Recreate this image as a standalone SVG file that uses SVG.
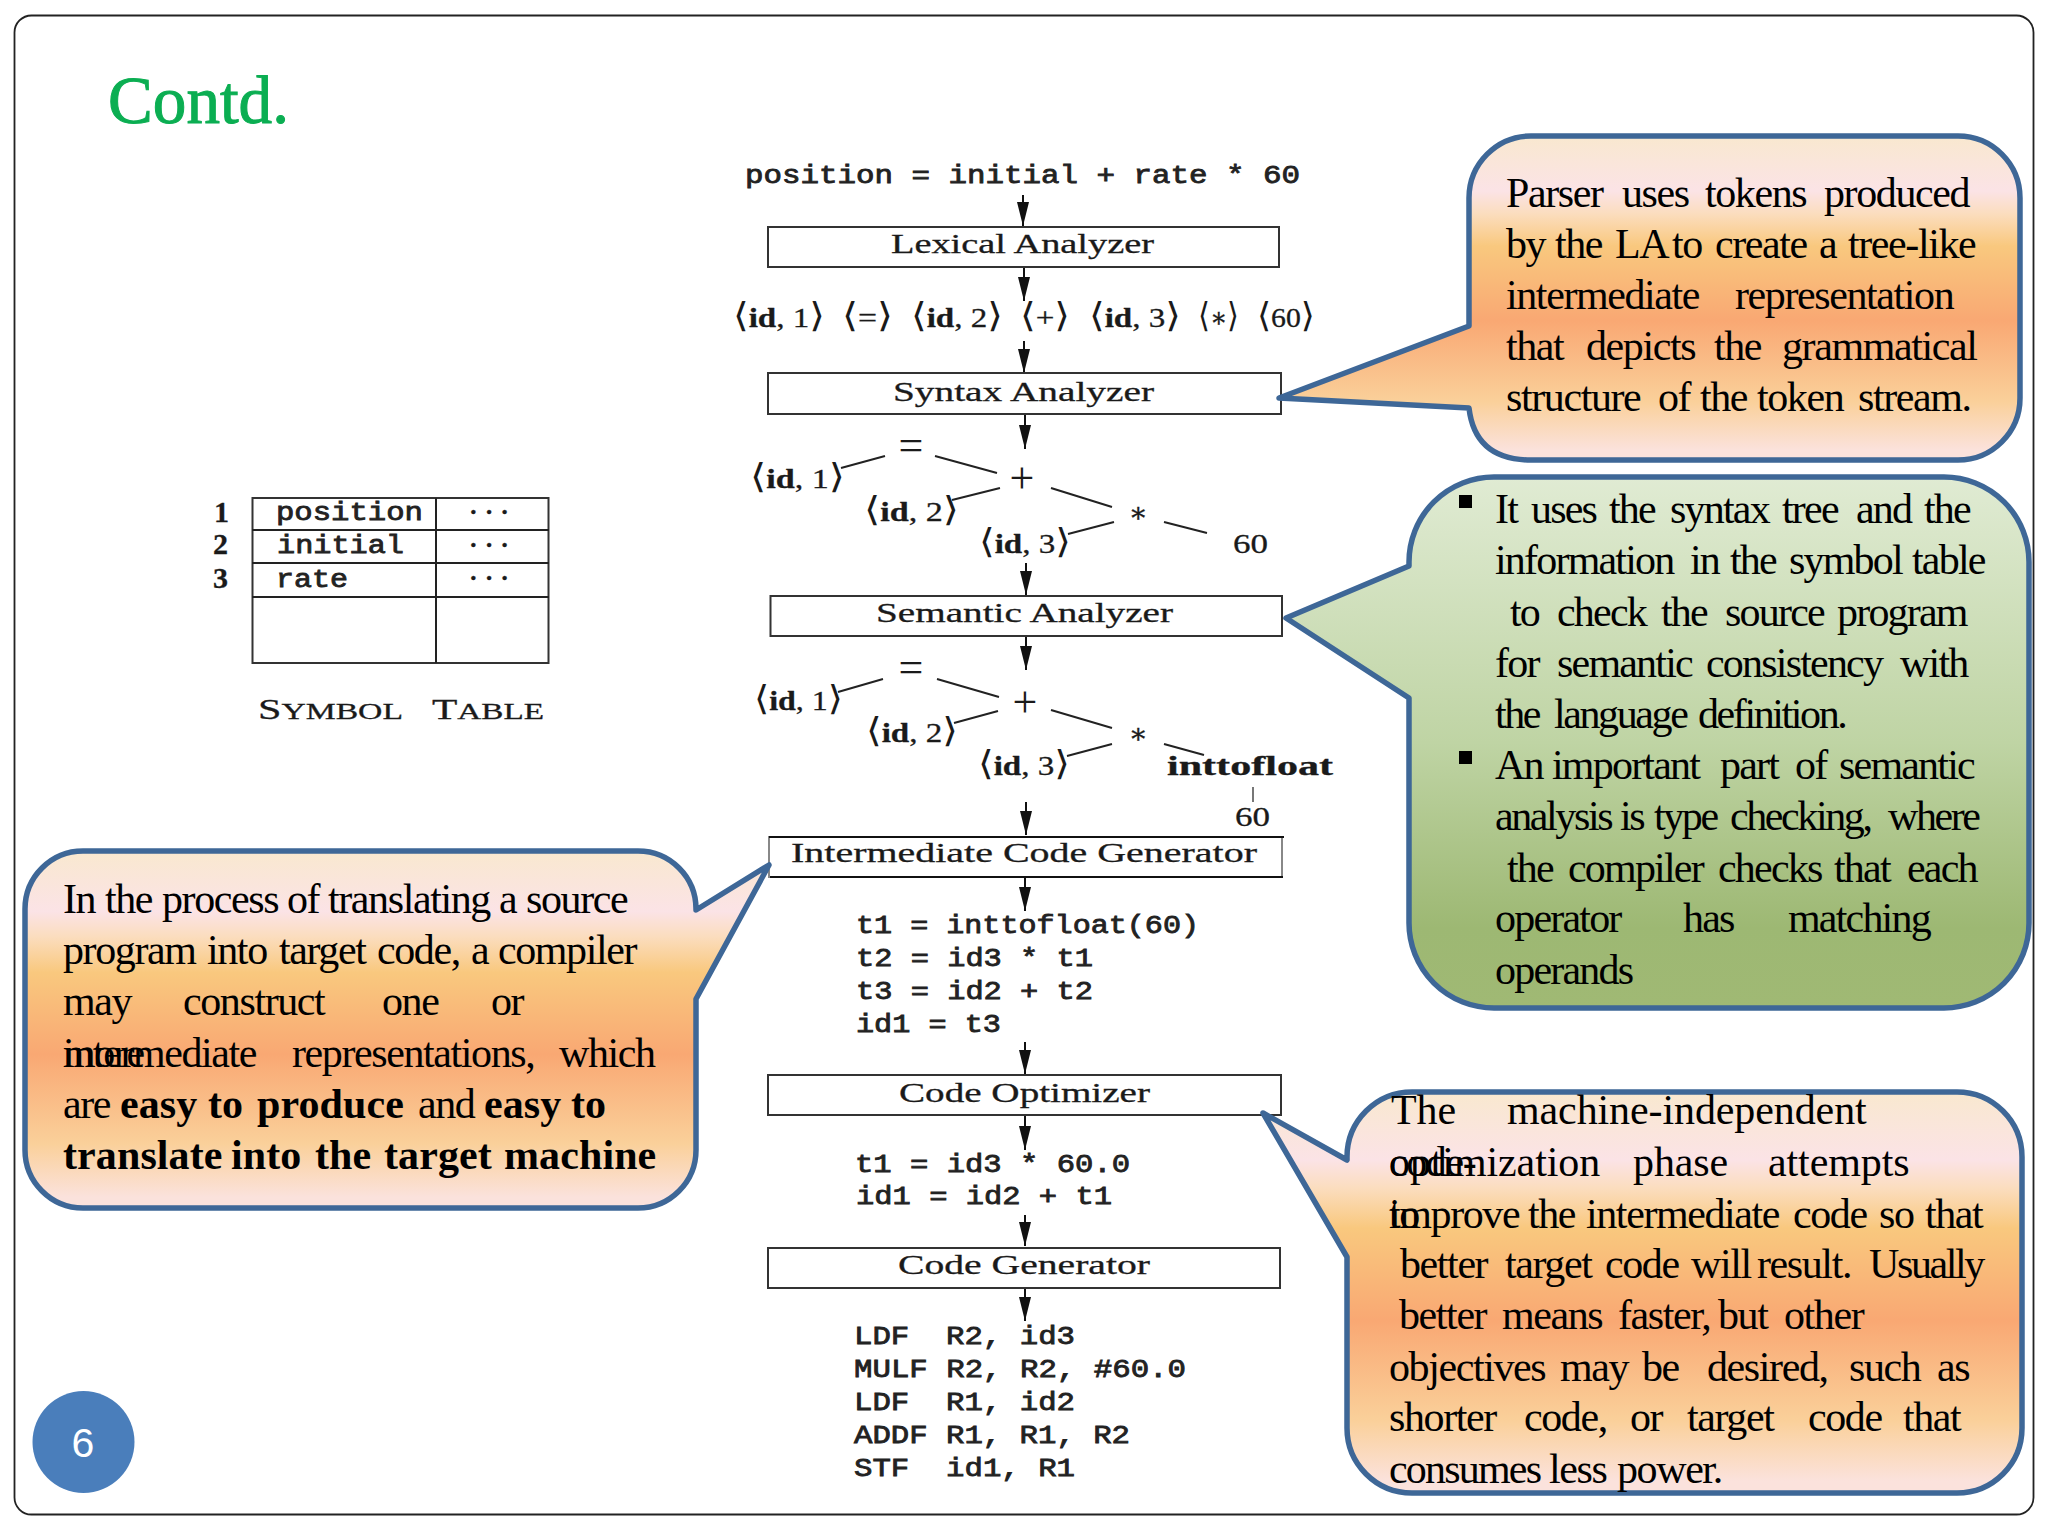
<svg xmlns="http://www.w3.org/2000/svg" width="2048" height="1536" viewBox="0 0 2048 1536">
<style>
.cm{font-family:"Liberation Serif","DejaVu Serif",serif;font-size:28px;fill:#1a1a1a;stroke:#1a1a1a;stroke-width:.3px}
.id{font-weight:bold}
.br{font-size:34px;stroke-width:0}
.op{font-size:44px;stroke-width:0}
.num{font-size:30px}
.tt{font-family:"Liberation Mono","DejaVu Sans Mono",monospace;font-size:25px;fill:#222;stroke:#222;stroke-width:.8px;white-space:pre}
.box{fill:#fff;stroke:#333;stroke-width:2}
.edge{stroke:#222;stroke-width:2;fill:none}
.arrow{stroke:#111;stroke-width:2;fill:none;marker-end:url(#head)}
.call{stroke:#3E6797;stroke-width:5.5;stroke-linejoin:round}
.t{font-family:"Liberation Serif","Times New Roman",serif;font-size:42px;letter-spacing:-1.4px;fill:#000}
.g{letter-spacing:-1.8px}
.gt{letter-spacing:-2.4px}
.w{letter-spacing:-.1px}
.b{font-weight:bold;font-size:42px;letter-spacing:.1px}
</style>
<defs>
<marker id="head" markerUnits="userSpaceOnUse" markerWidth="24" markerHeight="12" refX="24" refY="6" orient="auto"><path d="M0 0L24 6L0 12Z" fill="#111"/></marker>
<linearGradient id="orange" x1="0" y1="0" x2="0" y2="1">
<stop offset="0" stop-color="#F9E8CF"/><stop offset=".17" stop-color="#FBE3E6"/><stop offset=".24" stop-color="#FBDDBE"/><stop offset=".34" stop-color="#F9C87E"/><stop offset=".57" stop-color="#F9A873"/><stop offset=".82" stop-color="#FAD09A"/><stop offset=".97" stop-color="#FBE2DC"/><stop offset="1" stop-color="#FBE2DC"/>
</linearGradient>
<linearGradient id="green" x1="0" y1="0" x2="0" y2="1">
<stop offset="0" stop-color="#E0EBD3"/><stop offset=".5" stop-color="#BFD4A4"/><stop offset=".85" stop-color="#9DB873"/><stop offset="1" stop-color="#A0B974"/>
</linearGradient>
</defs>
<rect width="2048" height="1536" fill="#fff"/>
<rect id="frame" x="14.5" y="15.5" width="2019" height="1499" rx="17" fill="#fff" stroke="#222" stroke-width="1.8"/>
<text id="title" x="108" y="123" textLength="181" lengthAdjust="spacingAndGlyphs" font-family="Liberation Serif,serif" font-size="68" fill="#0BAE52" stroke="#0BAE52" stroke-width="1">Contd.</text>

<g id="symbol-table">
<rect x="252.500" y="498" width="296" height="165" fill="#fff" stroke="#333" stroke-width="2"/>
<path d="M436 498V663M252 530H549M252 563H549M252 597H549" stroke="#222" stroke-width="2" fill="none"/>
<text class="cm id num" x="214" y="522">1</text>
<text class="cm id num" x="213" y="554">2</text>
<text class="cm id num" x="213" y="588">3</text>
<text class="tt" x="276" y="520" textLength="147" lengthAdjust="spacingAndGlyphs">position</text>
<text class="tt" x="277" y="553" textLength="127" lengthAdjust="spacingAndGlyphs">initial</text>
<text class="tt" x="276" y="587" textLength="72" lengthAdjust="spacingAndGlyphs">rate</text>
<text class="cm id" x="469" y="520" textLength="40" style="font-size:26px">· · ·</text>
<text class="cm id" x="469" y="553" textLength="40" style="font-size:26px">· · ·</text>
<text class="cm id" x="469" y="586" textLength="40" style="font-size:26px">· · ·</text>
<text class="cm" x="258" y="719" textLength="145" lengthAdjust="spacingAndGlyphs" style="font-size:30px">S<tspan style="font-size:24px">YMBOL</tspan></text>
<text class="cm" x="432" y="719" textLength="112" lengthAdjust="spacingAndGlyphs" style="font-size:30px">T<tspan style="font-size:24px">ABLE</tspan></text>
</g>

<g id="connectors">
<path class="arrow" d="M1023 195V226"/>
<path class="arrow" d="M1024 267V301"/>
<path class="arrow" d="M1024 341V373"/>
<path class="arrow" d="M1025 415V449"/>
<path class="arrow" d="M1026 563V595"/>
<path class="arrow" d="M1026 636V670"/>
<path class="arrow" d="M1026 802V835"/>
<path class="arrow" d="M1025 878V911"/>
<path class="arrow" d="M1025 1042V1074"/>
<path class="arrow" d="M1025 1115V1150"/>
<path class="arrow" d="M1025 1215V1246"/>
<path class="arrow" d="M1025 1289V1321"/>
<path class="edge" d="M841 468L885 456M935 456L997 473M952 500L1000 488M1051 488L1112 507M1068 534L1114 522M1164 522L1207 533"/>
<path class="edge" d="M838 692L883 679M937 679L999 697M954 723L998 711M1051 710L1112 728M1067 756L1112 744M1164 744L1204 755"/>
<path d="M1253 787V802" stroke="#777" stroke-width="2"/>
</g>

<text class="tt" x="745" y="183" textLength="555" lengthAdjust="spacingAndGlyphs">position = initial + rate * 60</text>
<g id="lexical-analyzer"><rect class="box" x="768" y="227" width="511" height="40"/><text class="cm" x="891" y="253" textLength="263" lengthAdjust="spacingAndGlyphs">Lexical Analyzer</text></g>
<g id="tokens">
<text class="cm" x="733" y="327" textLength="92" lengthAdjust="spacingAndGlyphs"><tspan class="br">⟨</tspan><tspan class="id">id</tspan>, 1<tspan class="br">⟩</tspan></text>
<text class="cm" x="842" y="327" textLength="51" lengthAdjust="spacingAndGlyphs"><tspan class="br">⟨</tspan>=<tspan class="br">⟩</tspan></text>
<text class="cm" x="911" y="327" textLength="92" lengthAdjust="spacingAndGlyphs"><tspan class="br">⟨</tspan><tspan class="id">id</tspan>, 2<tspan class="br">⟩</tspan></text>
<text class="cm" x="1020" y="327" textLength="50" lengthAdjust="spacingAndGlyphs"><tspan class="br">⟨</tspan>+<tspan class="br">⟩</tspan></text>
<text class="cm" x="1089" y="327" textLength="92" lengthAdjust="spacingAndGlyphs"><tspan class="br">⟨</tspan><tspan class="id">id</tspan>, 3<tspan class="br">⟩</tspan></text>
<text class="cm" x="1198" y="327" textLength="41" lengthAdjust="spacingAndGlyphs"><tspan class="br">⟨</tspan>∗<tspan class="br">⟩</tspan></text>
<text class="cm" x="1257" y="327" textLength="58" lengthAdjust="spacingAndGlyphs"><tspan class="br">⟨</tspan>60<tspan class="br">⟩</tspan></text>
</g>
<g id="syntax-analyzer"><rect class="box" x="768" y="373" width="513" height="41"/><text class="cm" x="893" y="401" textLength="261" lengthAdjust="spacingAndGlyphs">Syntax Analyzer</text></g>
<g id="syntax-tree">
<text class="cm op" x="911" y="460" text-anchor="middle">=</text>
<text class="cm" x="750" y="488" textLength="95" lengthAdjust="spacingAndGlyphs"><tspan class="br">⟨</tspan><tspan class="id">id</tspan>, 1<tspan class="br">⟩</tspan></text>
<text class="cm op" x="1022" y="493" text-anchor="middle">+</text>
<text class="cm" x="864" y="521" textLength="95" lengthAdjust="spacingAndGlyphs"><tspan class="br">⟨</tspan><tspan class="id">id</tspan>, 2<tspan class="br">⟩</tspan></text>
<text class="cm" x="1138" y="522" text-anchor="middle">∗</text>
<text class="cm" x="979" y="553" textLength="92" lengthAdjust="spacingAndGlyphs"><tspan class="br">⟨</tspan><tspan class="id">id</tspan>, 3<tspan class="br">⟩</tspan></text>
<text class="cm" x="1233" y="553" textLength="35" lengthAdjust="spacingAndGlyphs">60</text>
</g>
<g id="semantic-analyzer"><rect class="box" x="770.500" y="596" width="511.500" height="40"/><text class="cm" x="876" y="622" textLength="297" lengthAdjust="spacingAndGlyphs">Semantic Analyzer</text></g>
<g id="semantic-tree">
<text class="cm op" x="911" y="682" text-anchor="middle">=</text>
<text class="cm" x="754" y="710" textLength="89" lengthAdjust="spacingAndGlyphs"><tspan class="br">⟨</tspan><tspan class="id">id</tspan>, 1<tspan class="br">⟩</tspan></text>
<text class="cm op" x="1025" y="717" text-anchor="middle">+</text>
<text class="cm" x="866" y="742" textLength="92" lengthAdjust="spacingAndGlyphs"><tspan class="br">⟨</tspan><tspan class="id">id</tspan>, 2<tspan class="br">⟩</tspan></text>
<text class="cm" x="1138" y="743" text-anchor="middle">∗</text>
<text class="cm" x="978" y="775" textLength="92" lengthAdjust="spacingAndGlyphs"><tspan class="br">⟨</tspan><tspan class="id">id</tspan>, 3<tspan class="br">⟩</tspan></text>
<text class="cm id" x="1167" y="775" textLength="166" lengthAdjust="spacingAndGlyphs">inttofloat</text>
<text class="cm" x="1235" y="826" textLength="35" lengthAdjust="spacingAndGlyphs">60</text>
</g>
<g id="intermediate-code-generator"><rect x="769" y="837" width="513" height="40" fill="#fff" stroke="#888" stroke-width="2"/><path d="M769 837H1284M770 877H1283" stroke="#111" stroke-width="2.200"/><text class="cm" x="791" y="862" textLength="466" lengthAdjust="spacingAndGlyphs">Intermediate Code Generator</text></g>
<g id="intermediate-code">
<text class="tt" x="856" y="933" textLength="343" lengthAdjust="spacingAndGlyphs">t1 = inttofloat(60)</text>
<text class="tt" x="856" y="966" textLength="237" lengthAdjust="spacingAndGlyphs">t2 = id3 * t1</text>
<text class="tt" x="856" y="999" textLength="237" lengthAdjust="spacingAndGlyphs">t3 = id2 + t2</text>
<text class="tt" x="856" y="1032" textLength="145" lengthAdjust="spacingAndGlyphs">id1 = t3</text>
</g>
<g id="code-optimizer"><rect class="box" x="768" y="1075" width="513" height="40"/><text class="cm" x="899" y="1102" textLength="251" lengthAdjust="spacingAndGlyphs">Code Optimizer</text></g>
<g id="optimized-code">
<text class="tt" x="855" y="1172" textLength="275" lengthAdjust="spacingAndGlyphs">t1 = id3 * 60.0</text>
<text class="tt" x="856" y="1204" textLength="256" lengthAdjust="spacingAndGlyphs">id1 = id2 + t1</text>
</g>
<g id="code-generator"><rect class="box" x="768" y="1248" width="512" height="40"/><text class="cm" x="898" y="1274" textLength="252" lengthAdjust="spacingAndGlyphs">Code Generator</text></g>
<g id="target-code">
<text class="tt" x="854" y="1344" textLength="221" lengthAdjust="spacingAndGlyphs">LDF  R2, id3</text>
<text class="tt" x="854" y="1377" textLength="332" lengthAdjust="spacingAndGlyphs">MULF R2, R2, #60.0</text>
<text class="tt" x="854" y="1410" textLength="221" lengthAdjust="spacingAndGlyphs">LDF  R1, id2</text>
<text class="tt" x="854" y="1443" textLength="276" lengthAdjust="spacingAndGlyphs">ADDF R1, R1, R2</text>
<text class="tt" x="854" y="1476" textLength="221" lengthAdjust="spacingAndGlyphs">STF  id1, R1</text>
</g>

<g id="callout-parser">
<path class="call" fill="url(#orange)" d="M1531 136H1958A62 62 0 0 1 2020 198V398A62 62 0 0 1 1958 460H1531Q1475 460 1469 408L1279 398L1469 326V198A62 62 0 0 1 1531 136Z"/>
<text class="t" y="207"><tspan x="1506">Parser</tspan><tspan x="1622">uses</tspan><tspan x="1705">tokens</tspan><tspan x="1824">produced</tspan></text>
<text class="t" y="258"><tspan x="1506">by</tspan><tspan x="1555">the</tspan><tspan x="1615">LA</tspan><tspan x="1672">to</tspan><tspan x="1715">create</tspan><tspan x="1819">a</tspan><tspan x="1848">tree-like</tspan></text>
<text class="t" y="309"><tspan x="1506">intermediate</tspan><tspan x="1735">representation</tspan></text>
<text class="t" y="360"><tspan x="1506">that</tspan><tspan x="1586">depicts</tspan><tspan x="1714">the</tspan><tspan x="1782">grammatical</tspan></text>
<text class="t" y="411"><tspan x="1506">structure</tspan><tspan x="1658">of</tspan><tspan x="1700">the</tspan><tspan x="1757">token</tspan><tspan x="1858">stream.</tspan></text>
</g>

<g id="callout-semantic">
<path class="call" fill="url(#green)" d="M1494 477H1944A85 85 0 0 1 2029 562V923A85 85 0 0 1 1944 1008H1494A85 85 0 0 1 1409 923V698L1286 618L1409 566V562A85 85 0 0 1 1494 477Z"/>
<rect x="1459" y="495" width="13" height="13"/><rect x="1459" y="751" width="13" height="13"/>
<text class="t g" y="523"><tspan x="1495">It</tspan><tspan x="1531">uses</tspan><tspan x="1609">the</tspan><tspan x="1670">syntax</tspan><tspan x="1782">tree</tspan><tspan x="1856">and</tspan><tspan x="1924">the</tspan></text>
<text class="t g" y="574"><tspan x="1495">information</tspan><tspan x="1690">in</tspan><tspan x="1730">the</tspan><tspan x="1789">symbol</tspan><tspan x="1912">table</tspan></text>
<text class="t g" y="626"><tspan x="1510">to</tspan><tspan x="1557">check</tspan><tspan x="1661">the</tspan><tspan x="1725">source</tspan><tspan x="1837">program</tspan></text>
<text class="t g" y="677"><tspan x="1495">for</tspan><tspan x="1557">semantic</tspan><tspan x="1706">consistency</tspan><tspan x="1900">with</tspan></text>
<text class="t gt" y="728"><tspan x="1495">the</tspan><tspan x="1554">language</tspan><tspan x="1698">definition.</tspan></text>
<text class="t g" y="779"><tspan x="1495">An</tspan><tspan x="1552">important</tspan><tspan x="1720">part</tspan><tspan x="1795">of</tspan><tspan x="1839">semantic</tspan></text>
<text class="t gt" y="830"><tspan x="1495">analysis</tspan><tspan x="1620">is</tspan><tspan x="1654">type</tspan><tspan x="1730">checking,</tspan><tspan x="1888">where</tspan></text>
<text class="t g" y="882"><tspan x="1507">the</tspan><tspan x="1568">compiler</tspan><tspan x="1718">checks</tspan><tspan x="1834">that</tspan><tspan x="1907">each</tspan></text>
<text class="t g" y="932"><tspan x="1495">operator</tspan><tspan x="1683">has</tspan><tspan x="1788">matching</tspan></text>
<text class="t g" y="984"><tspan x="1495">operands</tspan></text>
</g>

<g id="callout-translation">
<path class="call" fill="url(#orange)" d="M83 851H638A58 58 0 0 1 696 909V910L769 865L696 999V1150A58 58 0 0 1 638 1208H83A58 58 0 0 1 25 1150V909A58 58 0 0 1 83 851Z"/>
<text class="t" y="913"><tspan x="63">In</tspan><tspan x="105">the</tspan><tspan x="162">process</tspan><tspan x="287">of</tspan><tspan x="328">translating</tspan><tspan x="499">a</tspan><tspan x="526">source</tspan></text>
<text class="t" y="964"><tspan x="63">program</tspan><tspan x="207">into</tspan><tspan x="279">target</tspan><tspan x="377">code,</tspan><tspan x="471">a</tspan><tspan x="498">compiler</tspan></text>
<text class="t" y="1015"><tspan x="63">may</tspan><tspan x="183">construct</tspan><tspan x="382">one</tspan><tspan x="491">or</tspan></text>
<text class="t" y="1067" x="63">more</text>
<text class="t" y="1067"><tspan x="63">intermediate</tspan><tspan x="292">representations,</tspan><tspan x="559">which</tspan></text>
<text class="t" y="1118"><tspan x="63">are</tspan><tspan x="120" class="b">easy</tspan><tspan x="208" class="b">to</tspan><tspan x="257" class="b">produce</tspan><tspan x="418">and</tspan><tspan x="484" class="b">easy</tspan><tspan x="571" class="b">to</tspan></text>
<text class="t b" y="1169"><tspan x="63">translate</tspan><tspan x="231">into</tspan><tspan x="315">the</tspan><tspan x="384">target</tspan><tspan x="504">machine</tspan></text>
</g>

<g id="callout-optimization">
<path class="call" fill="url(#orange)" d="M1412 1092H1957A65 65 0 0 1 2022 1157V1428A65 65 0 0 1 1957 1493H1412A65 65 0 0 1 1347 1428V1257L1263 1113L1347 1160V1157A65 65 0 0 1 1412 1092Z"/>
<text class="t w" y="1124"><tspan x="1391">The</tspan><tspan x="1507">machine-independent</tspan></text>
<text class="t" y="1176" x="1389">code-</text>
<text class="t w" y="1176"><tspan x="1389">optimization</tspan><tspan x="1633">phase</tspan><tspan x="1768">attempts</tspan></text>
<text class="t" y="1228" x="1389">to</text>
<text class="t" y="1228"><tspan x="1389">improve</tspan><tspan x="1528">the</tspan><tspan x="1586">intermediate</tspan><tspan x="1793">code</tspan><tspan x="1879">so</tspan><tspan x="1925">that</tspan></text>
<text class="t" y="1278"><tspan x="1400">better</tspan><tspan x="1505">target</tspan><tspan x="1605">code</tspan><tspan x="1691">will</tspan><tspan x="1757">result.</tspan><tspan class="gt" x="1869">Usually</tspan></text>
<text class="t" y="1329"><tspan x="1399">better</tspan><tspan x="1502">means</tspan><tspan x="1618">faster,</tspan><tspan x="1718">but</tspan><tspan x="1784">other</tspan></text>
<text class="t" y="1381"><tspan x="1389">objectives</tspan><tspan x="1560">may</tspan><tspan x="1642">be</tspan><tspan x="1707">desired,</tspan><tspan x="1849">such</tspan><tspan x="1937">as</tspan></text>
<text class="t" y="1431"><tspan x="1389">shorter</tspan><tspan x="1524">code,</tspan><tspan x="1630">or</tspan><tspan x="1687">target</tspan><tspan x="1808">code</tspan><tspan x="1903">that</tspan></text>
<text class="t" y="1483"><tspan class="g" x="1389">consumes</tspan><tspan x="1549">less</tspan><tspan x="1617">power.</tspan></text>
</g>

<g id="page-number">
<circle cx="83.500" cy="1442" r="51" fill="#4A7EBB"/>
<text x="83" y="1457" text-anchor="middle" font-family="Liberation Sans,sans-serif" font-size="41" fill="#fff">6</text>
</g>
</svg>
